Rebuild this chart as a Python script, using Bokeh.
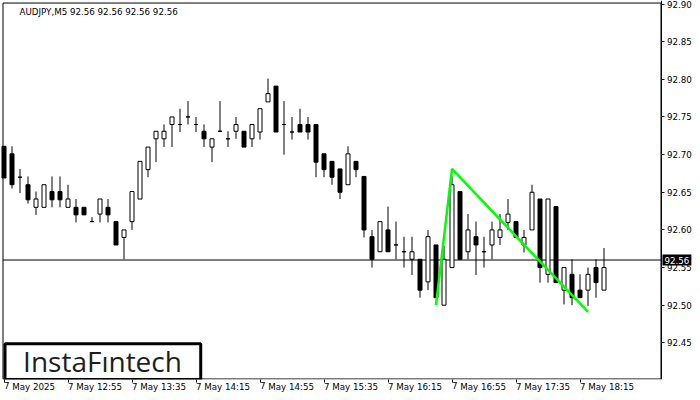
from bokeh.plotting import figure
from bokeh.models import Range1d, FixedTicker, Label, BoxAnnotation, ColumnDataSource, PrintfTickFormatter
from bokeh.embed import file_html
from bokeh.resources import INLINE

# ---- data (AUDJPY M5, 7 May 2025, bars from 12:15 onward) ----
opens  = [92.711, 92.701, 92.670, 92.660, 92.630, 92.630, 92.651, 92.651, 92.630, 92.630,
          92.630, 92.611, 92.621, 92.630, 92.611, 92.590, 92.611, 92.641, 92.680, 92.721,
          92.721, 92.740, 92.740, 92.750, 92.740, 92.731, 92.710, 92.731, 92.721, 92.731,
          92.731, 92.721, 92.730, 92.770, 92.791, 92.740, 92.730, 92.740, 92.740, 92.740,
          92.701, 92.691, 92.681, 92.660, 92.691, 92.671, 92.591, 92.571, 92.600, 92.580,
          92.571, 92.561, 92.561, 92.531, 92.580, 92.500, 92.550, 92.651, 92.571, 92.591,
          92.571, 92.580, 92.590, 92.610, 92.611, 92.580, 92.600, 92.641, 92.541, 92.631,
          92.520, 92.541, 92.520, 92.520, 92.550, 92.520]
highs  = [92.711, 92.711, 92.681, 92.671, 92.651, 92.660, 92.671, 92.671, 92.660, 92.641,
          92.630, 92.617, 92.641, 92.641, 92.611, 92.600, 92.651, 92.691, 92.710, 92.731,
          92.740, 92.750, 92.761, 92.771, 92.750, 92.740, 92.721, 92.771, 92.731, 92.750,
          92.731, 92.740, 92.761, 92.801, 92.791, 92.771, 92.750, 92.761, 92.750, 92.740,
          92.701, 92.691, 92.681, 92.711, 92.691, 92.671, 92.600, 92.611, 92.631, 92.611,
          92.591, 92.591, 92.561, 92.600, 92.580, 92.579, 92.671, 92.651, 92.621, 92.611,
          92.591, 92.611, 92.621, 92.641, 92.611, 92.600, 92.660, 92.641, 92.641, 92.631,
          92.550, 92.561, 92.541, 92.550, 92.561, 92.576]
lows   = [92.669, 92.655, 92.649, 92.635, 92.620, 92.630, 92.630, 92.630, 92.630, 92.610,
          92.620, 92.611, 92.610, 92.610, 92.580, 92.561, 92.600, 92.641, 92.670, 92.690,
          92.710, 92.710, 92.730, 92.740, 92.730, 92.710, 92.690, 92.731, 92.710, 92.721,
          92.710, 92.710, 92.720, 92.770, 92.730, 92.700, 92.720, 92.730, 92.720, 92.670,
          92.670, 92.660, 92.641, 92.660, 92.670, 92.590, 92.550, 92.571, 92.571, 92.561,
          92.550, 92.540, 92.510, 92.520, 92.510, 92.500, 92.550, 92.561, 92.561, 92.540,
          92.550, 92.561, 92.580, 92.600, 92.590, 92.570, 92.600, 92.530, 92.530, 92.530,
          92.501, 92.500, 92.510, 92.499, 92.510, 92.520]
closes = [92.669, 92.660, 92.670, 92.640, 92.641, 92.660, 92.640, 92.640, 92.641, 92.620,
          92.620, 92.611, 92.641, 92.620, 92.580, 92.600, 92.651, 92.691, 92.710, 92.731,
          92.731, 92.750, 92.740, 92.750, 92.740, 92.721, 92.721, 92.731, 92.721, 92.740,
          92.710, 92.740, 92.761, 92.781, 92.730, 92.740, 92.730, 92.730, 92.730, 92.690,
          92.680, 92.670, 92.650, 92.701, 92.680, 92.600, 92.561, 92.611, 92.571, 92.580,
          92.571, 92.571, 92.520, 92.591, 92.510, 92.561, 92.660, 92.561, 92.600, 92.580,
          92.571, 92.600, 92.600, 92.621, 92.590, 92.590, 92.650, 92.550, 92.641, 92.530,
          92.550, 92.510, 92.510, 92.541, 92.530, 92.550]

x_tick_pos = [0, 8, 16, 24, 32, 40, 48, 56, 64, 72]
x_tick_labels = ["7 May 2025", "7 May 12:55", "7 May 13:35", "7 May 14:15", "7 May 14:55",
                 "7 May 15:35", "7 May 16:15", "7 May 16:55", "7 May 17:35", "7 May 18:15"]
y_ticks = [92.45, 92.50, 92.55, 92.60, 92.65, 92.70, 92.75, 92.80, 92.85, 92.90]

pattern_idx = [54, 56, 73]
pattern_price = [92.500, 92.681, 92.491]

current_price = 92.56
header_text = "AUDJPY,M5  92.56 92.56 92.56 92.56"
logo_text = "InstaF\u0131ntech"

# ---- layout constants (data-space positions of the chart frame) ----
X0, X1 = -0.4375, 87.0625          # full canvas width (8 px per bar)
Y0, Y1 = 92.40133, 92.90467        # full frame height (750 px per 1.0)
B_LEFT, B_RIGHT = -0.125, 82.125   # visible chart border
B_BOTTOM, B_TOP = 92.402, 92.9013

# ---- sources ----
idx = list(range(len(opens)))
tops = [max(o, c) for o, c in zip(opens, closes)]
bots = [min(o, c) for o, c in zip(opens, closes)]
fills = ["black" if c < o else "white" for o, c in zip(opens, closes)]
src = ColumnDataSource(dict(x=idx, high=highs, low=lows, top=tops, bottom=bots, fill=fills))

FONT = "DejaVu Sans"
FS = "8.7px"

p = figure(width=700, height=400, output_backend="svg", toolbar_location=None,
           x_range=Range1d(X0, X1), y_range=Range1d(Y0, Y1),
           y_axis_location="right", min_border_left=0, min_border_top=0,
           min_border_right=0, min_border_bottom=21, margin=(0, 0, 0, 0))
p.outline_line_color = None
p.xgrid.visible = False
p.ygrid.visible = False
p.background_fill_color = "white"
p.border_fill_color = "white"

for ax in (p.xaxis[0], p.yaxis[0]):
    ax.major_tick_line_color = "black"
    ax.major_tick_in = 0
    ax.major_tick_out = 3
    ax.minor_tick_line_color = None
    ax.major_label_text_font = FONT
    ax.major_label_text_font_size = FS
    ax.major_label_text_color = "black"
    ax.major_label_standoff = 3

xa = p.xaxis[0]
xa.axis_line_color = None
xa.ticker = FixedTicker(ticks=x_tick_pos)
xa.major_label_overrides = {t: l for t, l in zip(x_tick_pos, x_tick_labels)}
xa.major_label_orientation = -0.0001
xa.major_label_standoff = 4

ya = p.yaxis[0]
ya.fixed_location = B_RIGHT
ya.axis_line_color = "black"
ya.ticker = FixedTicker(ticks=y_ticks)
ya.formatter = PrintfTickFormatter(format="%.2f")

# chart border
p.add_layout(BoxAnnotation(left=B_LEFT, right=B_RIGHT, bottom=B_BOTTOM, top=B_TOP,
                           fill_alpha=0, line_color="black", line_alpha=1, line_width=1,
                           level="underlay"))

# current price line
p.segment(x0=[B_LEFT], y0=[current_price], x1=[B_RIGHT], y1=[current_price],
          line_color="black", line_width=1)

# candles
p.segment(x0="x", y0="low", x1="x", y1="high", source=src, line_color="black", line_width=1)
p.vbar(x="x", width=0.5, top="top", bottom="bottom", source=src,
       fill_color="fill", line_color="black", line_width=1)

# pattern line
p.line(pattern_idx, pattern_price, line_color="#00ff00", line_width=2.5)

# header
p.add_layout(Label(x=1.9375, y=92.890, text=header_text, text_font=FONT, text_font_size="8.7px",
                   text_color="black", text_baseline="middle", text_align="left"))

# price tag on the axis
p.add_layout(Label(x=82.3125, y=current_price, text="92.56", text_font=FONT, text_font_size="8.7px",
                   text_color="white", text_baseline="middle", text_align="left",
                   background_fill_color="black", padding=2))

# logo box
p.add_layout(BoxAnnotation(left=0.125, right=24.59, bottom=92.4013, top=92.4487,
                           fill_color="white", fill_alpha=1, line_color="black", line_alpha=1,
                           line_width=3))
p.add_layout(Label(x=12.3125, y=92.4253, text=logo_text, text_font="Open Sans", text_font_size="28px",
                   text_color="#1e1e1e", text_baseline="middle", text_align="center"))

open("out.html", "w").write(file_html(p, INLINE))
